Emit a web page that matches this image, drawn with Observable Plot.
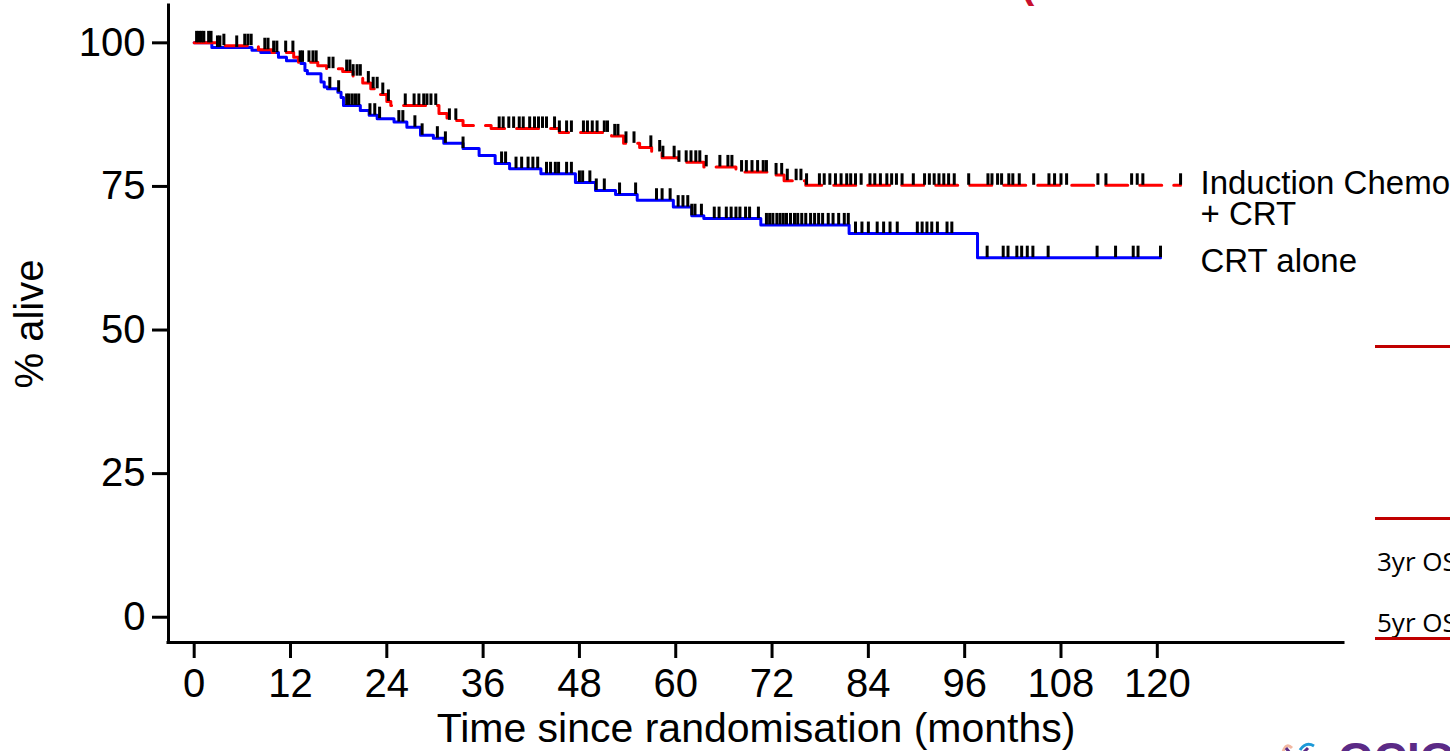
<!DOCTYPE html>
<html>
<head>
<meta charset="utf-8">
<script src="https://cdn.jsdelivr.net/npm/d3@7"></script>
<script src="https://cdn.jsdelivr.net/npm/@observablehq/plot@0.6"></script>
<style>
  html, body { margin: 0; padding: 0; background: white; }
  #wrap { position: relative; width: 1450px; height: 751px; overflow: hidden; background: white; }
  #wrap svg { display: block; }
  .extra { position: absolute; white-space: nowrap; }
  .redline { position: absolute; height: 3px; background: #c00000; left: 1375px; width: 80px; }
  .os { position: absolute; left: 1377px; font-family: "Open Sans", "Noto Sans", sans-serif; font-size: 26px; color: #000; line-height: 1; white-space: nowrap; }
</style>
</head>
<body>
<div id="wrap"></div>
<script>
// ---- Data ----
const xTicks = [0, 12, 24, 36, 48, 60, 72, 84, 96, 108, 120];
const yTicks = [0, 25, 50, 75, 100];

// Induction Chemo + CRT (red, dashed): step times (months) and % alive after each step
const redStepMonths = [0, 3.0, 8.0, 9.7, 12.4, 13.0, 15.4, 16.5, 18.5, 19.8, 21.0, 22.0, 23.0, 24.0, 24.5, 30.5, 31.5, 33.5, 37.0, 45.5, 52.0, 53.5, 55.5, 57.0, 58.3, 60.3, 63.5, 67.5, 72.3, 73.5, 76.2];
const redStepSurv   = [100, 99.5, 98.8, 98.3, 97.5, 96.6, 96.0, 95.5, 95.0, 94.2, 93.0, 92.0, 91.0, 89.8, 89.1, 87.7, 86.5, 85.6, 85.1, 84.4, 83.8, 82.5, 81.8, 81.0, 80.0, 79.2, 78.4, 77.5, 77.0, 76.0, 75.2];
const redEndMonth = 122.9;
const redCensorMonths = [0.3, 0.6, 0.9, 1.2, 1.8, 2.1, 3.7, 6.3, 6.7, 7.1, 8.8, 9.2, 9.9, 10.3, 11.4, 12.3, 13.2, 13.5, 14.3, 14.8, 15.2, 16.8, 17.3,
  19.0, 19.4, 19.8, 20.3, 20.7, 21.7, 22.3, 22.8, 23.5, 24.2, 26.3, 27.4, 28.0, 28.6, 29.0, 29.5, 30.1, 31.8, 32.6,
  38.0, 38.5, 39.2, 39.8, 40.5, 41.0, 41.8, 42.4, 42.9, 43.4, 43.9, 44.9, 45.5, 46.4, 47.0, 48.5, 49.0, 49.6, 50.2, 51.1, 51.5, 52.4, 52.8,
  53.8, 54.8, 56.9, 58.0, 58.4, 59.8, 60.4, 61.3, 61.9, 62.5, 63.0, 63.8, 65.5, 66.5, 67.0, 68.2, 68.8, 69.5, 70.2, 70.9, 71.3,
  72.5, 73.2, 73.9, 75.0, 75.6, 76.3, 77.9, 78.5, 79.2, 79.9, 80.6, 81.3, 81.8, 82.4, 83.1, 84.2, 84.8, 85.5, 86.3, 86.9, 87.5, 88.2,
  89.6, 91.0, 91.6, 92.2, 92.8, 93.4, 94.0, 94.7, 96.5, 98.9, 99.4, 100.1, 100.6, 101.5, 102.0, 102.8, 104.6, 106.5, 107.2, 108.0, 108.7,
  112.6, 113.6, 116.8, 117.5, 118.2, 122.9];

// CRT alone (blue, solid)
const blueStepMonths = [0, 2.2, 7.2, 8.3, 10.5, 11.5, 13.3, 13.8, 14.1, 15.8, 16.2, 16.6, 17.9, 18.3, 18.6, 20.7, 21.8, 22.8, 24.9, 26.5, 28.2, 29.8, 31.1, 33.5, 35.5, 37.5, 39.3, 43.2, 47.5, 50.0, 52.5, 55.2, 59.7, 62.0, 63.5, 70.6, 81.6, 97.6];
const blueStepSurv   = [100, 99.2, 98.7, 98.3, 97.5, 96.9, 96.4, 95.2, 94.6, 93.2, 92.3, 92.0, 91.4, 90.5, 89.1, 88.2, 87.4, 86.8, 86.2, 85.3, 83.9, 83.4, 82.5, 81.6, 80.4, 79.0, 78.1, 77.2, 75.7, 74.3, 73.6, 72.6, 71.4, 69.9, 69.4, 68.3, 66.8, 62.6];
const blueEndMonth = 120.4;
const blueCensorMonths = [2.9, 3.2, 5.3, 16.9, 18.0, 19.0, 19.3, 19.7, 20.1, 20.5, 21.9, 22.5, 23.1, 25.5, 26.0, 27.5, 28.4, 30.3, 31.3, 33.5,
  38.3, 38.8, 40.1, 40.8, 41.6, 42.2, 42.8, 43.9, 44.4, 45.0, 45.4, 46.4, 47.0, 48.0, 48.4, 49.3, 50.1, 51.1, 53.0, 55.0,
  57.6, 58.3, 59.3, 60.3, 60.9, 61.5, 62.0, 62.4, 63.2, 64.8, 65.4, 66.3, 66.9, 67.5, 68.0, 68.7, 69.2, 70.3,
  71.3, 71.7, 72.1, 72.6, 73.0, 73.4, 73.8, 74.3, 74.8, 75.2, 75.7, 76.2, 76.8, 77.3, 77.8, 78.3, 79.0, 79.6, 80.3, 81.0, 81.5,
  82.4, 83.2, 84.0, 85.1, 85.9, 86.7, 87.6, 90.1, 90.7, 91.3, 91.9, 92.6, 93.8, 94.4,
  98.8, 100.8, 101.4, 102.5, 103.1, 103.8, 104.5, 106.4, 112.5, 114.8, 117.0, 117.6, 120.4];

const armLabels = ["Induction Chemo", "+ CRT", "CRT alone"];
const xLabel = "Time since randomisation (months)";
const yLabel = "% alive";

// ---- Build tables ----
function stepTable(months, surv, end) {
  const rows = months.map((t, i) => ({t, s: surv[i]}));
  rows.push({t: end, s: surv[surv.length - 1]});
  return rows;
}
function survAt(months, surv, t) {
  let v = surv[0];
  for (let i = 0; i < months.length; i++) if (months[i] <= t) v = surv[i];
  return v;
}
const red = stepTable(redStepMonths, redStepSurv, redEndMonth);
const blue = stepTable(blueStepMonths, blueStepSurv, blueEndMonth);
const censors = [
  ...redCensorMonths.map(t => ({t, s: survAt(redStepMonths, redStepSurv, t)})),
  ...blueCensorMonths.map(t => ({t, s: survAt(blueStepMonths, blueStepSurv, t)}))
];
const redLast = redStepSurv[redStepSurv.length - 1];
const blueLast = blueStepSurv[blueStepSurv.length - 1];

const xDomain = [-3.2, 143.2];
const yDomain = [-4.4, 106.5];
const font = "'Liberation Sans', Arial, sans-serif";

const chart = Plot.plot({
  width: 1450,
  height: 751,
  marginLeft: 168,
  marginRight: 107,
  marginTop: 5,
  marginBottom: 109,
  x: {domain: xDomain},
  y: {domain: yDomain},
  style: {fontFamily: font, background: "white", color: "black", overflow: "visible"},
  marks: [
    Plot.ruleY([yDomain[0]], {stroke: "black", strokeWidth: 3, strokeLinecap: "square"}),
    Plot.ruleX([xDomain[0]], {stroke: "black", strokeWidth: 3, strokeLinecap: "square"}),
    Plot.axisX(xTicks, {tickSize: 16, tickPadding: 10, fontSize: 40, strokeWidth: 3, label: null, fill: "black"}),
    Plot.axisY(yTicks, {tickSize: 16, tickPadding: 7, fontSize: 40, strokeWidth: 3, label: null, fill: "black"}),
    Plot.line(blue, {x: "t", y: "s", curve: "step-after", stroke: "#0000ff", strokeWidth: 3}),
    Plot.line(red, {x: "t", y: "s", curve: "step-after", stroke: "#ff0000", strokeWidth: 3, strokeDasharray: "22,12"}),
    Plot.ruleX(censors, {x: "t", y1: "s", y2: d => d.s + 2.0, stroke: "black", strokeWidth: 3}),
    Plot.text([xLabel], {frameAnchor: "bottom", dy: 86, lineAnchor: "middle", textAnchor: "middle", fontSize: 41, fill: "black"}),
    Plot.text([yLabel], {frameAnchor: "left", dx: -138, rotate: -90, lineAnchor: "middle", textAnchor: "middle", fontSize: 40, fill: "black"}),
    Plot.text([armLabels[0]], {y: () => redLast, frameAnchor: "right", dx: -143, dy: -2, textAnchor: "start", lineAnchor: "middle", fontSize: 33, fill: "black"}),
    Plot.text([armLabels[1]], {y: () => redLast, frameAnchor: "right", dx: -143, dy: 29, textAnchor: "start", lineAnchor: "middle", fontSize: 33, fill: "black"}),
    Plot.text([armLabels[2]], {y: () => blueLast, frameAnchor: "right", dx: -143, dy: 4, textAnchor: "start", lineAnchor: "middle", fontSize: 33, fill: "black"})
  ]
});

const wrap = document.getElementById("wrap");
wrap.appendChild(chart);

// Cropped pieces of the surrounding slide
const extras = `
  <div class="extra" style="left:1021px; top:-38px; font-family:${font}; font-size:40px; font-weight:bold; color:#c8102e;">(</div>
  <div class="redline" style="top:345px;"></div>
  <div class="redline" style="top:517px;"></div>
  <div class="os" style="top:548px;">3yr OS</div>
  <div class="os" style="top:609px;">5yr OS</div>
  <div class="redline" style="top:637px;"></div>
  <svg class="extra" style="left:1278px; top:740px;" width="50" height="20">
    <path d="M5,12 Q8,2 14,8" stroke="#f2b8a2" stroke-width="3" fill="none"/>
    <path d="M22,10 Q28,1 36,6" stroke="#1d9ad8" stroke-width="3" fill="none"/>
    <path d="M8,8 L16,18 M20,18 L30,8" stroke="#5b2a86" stroke-width="3" fill="none"/>
  </svg>
  <div class="extra" style="left:1338px; top:736px; font-family:${font}; font-size:46px; font-weight:bold; color:#5b2a86; line-height:1;">GCIG</div>
`;
wrap.insertAdjacentHTML("beforeend", extras);
</script>
</body>
</html>
